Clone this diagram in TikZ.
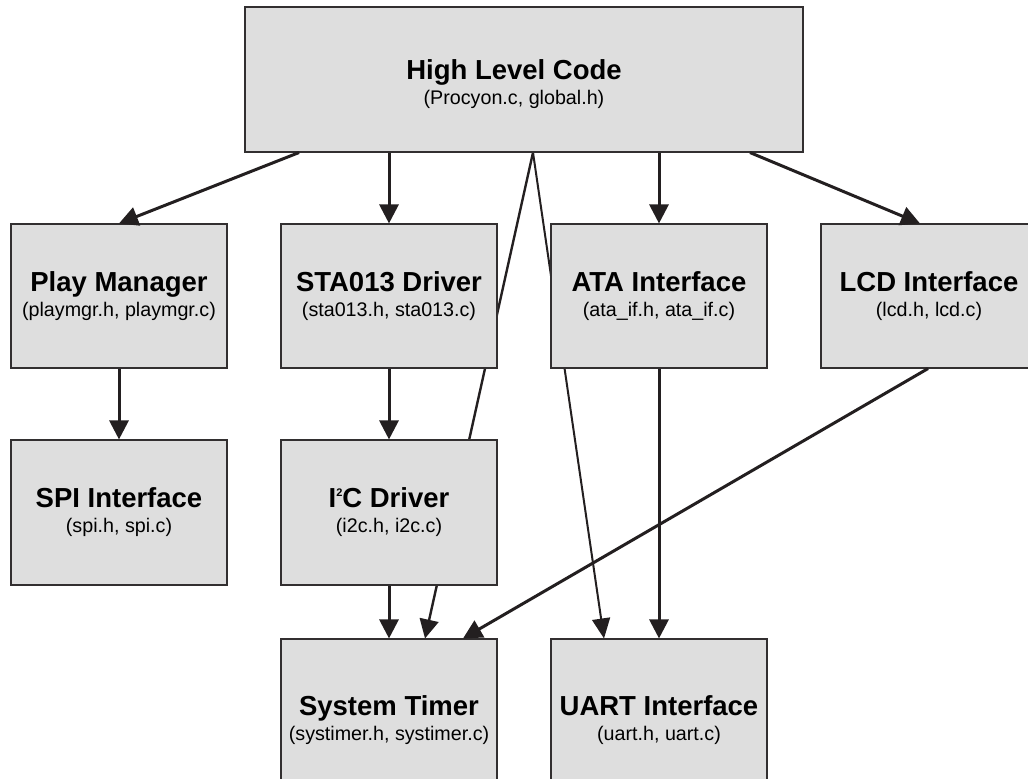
\documentclass[tikz,border=0pt]{standalone}
\usepackage{fontspec}
\setmainfont{Liberation Sans}
\usepackage{xcolor}
\usetikzlibrary{arrows.meta}

\definecolor{boxfill}{RGB}{222,222,222}
\definecolor{boxline}{RGB}{50,47,48}
\definecolor{arrowink}{RGB}{35,31,32}

\pgfdeclarelayer{background}
\pgfsetlayers{background,main}

\newcommand{\modtitle}{\fontsize{27.5}{30}\selectfont\bfseries}
\newcommand{\tinysup}[1]{\raisebox{0.42em}{\fontsize{11}{11}\selectfont #1}}

\tikzset{
  modbox/.style={draw=boxline, fill=boxfill, line width=1.1, minimum width=216, minimum height=144,
    inner sep=0, align=center, font=\fontsize{19.7}{25}\selectfont},
  callarrow/.style={draw=arrowink, line width=3, -{Triangle[length=19pt,width=19pt]}},
  thinarrow/.style={draw=arrowink, line width=2, -{Triangle[length=20pt,width=18pt]}}
}

\begin{document}
\begin{tikzpicture}[x=1pt,y=1pt,yscale=-1,xscale=1]
\clip (0,0) rectangle (1028,779);

%Shape: Rectangle [top]
\node[modbox, minimum width=558, minimum height=145] (hlc) at (524,79.5) {};
% Text Node
\node[align=center, font=\fontsize{19.7}{25}\selectfont] (hlctext) at (514,84)
  {{\modtitle High Level Code}\\(Procyon.c, global.h)};

%Shape: Rectangle [second row]
\node[modbox] (pm) at (119,296) {{\modtitle Play Manager}\\(playmgr.h, playmgr.c)};
\node[modbox] (sta) at (389,296) {{\modtitle STA013 Driver}\\(sta013.h, sta013.c)};
\node[modbox] (ata) at (659,296) {{\modtitle ATA Interface}\\(ata\_if.h, ata\_if.c)};
\node[modbox] (lcd) at (929,296) {{\modtitle LCD Interface}\\(lcd.h, lcd.c)};

%Shape: Rectangle [third row]
\node[modbox, minimum height=145] (spi) at (119,512.5) {{\modtitle SPI Interface}\\(spi.h, spi.c)};
\node[modbox, minimum height=145] (i2c) at (389,512.5) {{\modtitle I\tinysup{2}C Driver}\\(i2c.h, i2c.c)};

%Shape: Rectangle [bottom row]
\node[modbox, minimum height=162] (timer) at (389,720) {{\modtitle System Timer}\\(systimer.h, systimer.c)};
\node[modbox, minimum height=162] (uart) at (659,720) {{\modtitle UART Interface}\\(uart.h, uart.c)};

%Straight Lines [behind the boxes]
\begin{pgfonlayer}{background}
\draw[callarrow, line width=2.4] ([xshift=9]hlc.south) -- ([xshift=36]timer.north);
\draw[thinarrow] ([xshift=9]hlc.south) -- ([xshift=-55]uart.north);
\end{pgfonlayer}

%Straight Lines
\draw[callarrow] ([xshift=-225]hlc.south) -- (pm.north);
\draw[callarrow] ([xshift=-135]hlc.south) -- (sta.north);
\draw[callarrow] ([xshift=135]hlc.south) -- (ata.north);
\draw[callarrow] ([xshift=226]hlc.south) -- ([xshift=-9]lcd.north);
\draw[callarrow] (pm.south) -- (spi.north);
\draw[callarrow] (sta.south) -- (i2c.north);
\draw[callarrow] (i2c.south) -- (timer.north);
\draw[callarrow] (ata.south) -- (uart.north);
\draw[callarrow] ([xshift=-1]lcd.south) -- ([xshift=74]timer.north);
\end{tikzpicture}
\end{document}
